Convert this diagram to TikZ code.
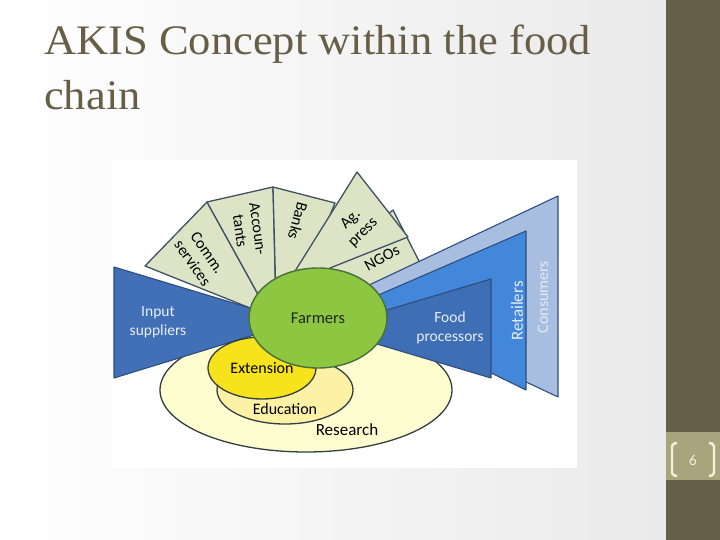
\documentclass[tikz,border=0pt]{standalone}
\usepackage{fontspec}
\setmainfont{Liberation Serif}
\newfontfamily\carl{Carlito}
\usetikzlibrary{shapes.geometric}
\definecolor{barcol}{RGB}{102,94,72}
\definecolor{boxcol}{RGB}{168,164,126}
\definecolor{numcol}{RGB}{243,240,220}
\definecolor{titlecol}{RGB}{103,94,72}
\definecolor{bggray}{RGB}{234,234,234}
\definecolor{fanfill}{RGB}{221,228,198}
\definecolor{fanline}{RGB}{62,82,100}
\definecolor{inputcol}{RGB}{65,112,182}
\definecolor{foodcol}{RGB}{62,110,180}
\definecolor{retailcol}{RGB}{66,135,218}
\definecolor{conscol}{RGB}{168,190,224}
\definecolor{blueline}{RGB}{46,78,128}
\definecolor{farmfill}{RGB}{141,198,65}
\definecolor{farmline}{RGB}{72,110,58}
\definecolor{extfill}{RGB}{247,227,28}
\definecolor{edufill}{RGB}{252,241,165}
\definecolor{resfill}{RGB}{254,253,208}
\definecolor{ellline}{RGB}{50,62,64}
\definecolor{lighttext}{RGB}{232,238,246}
\definecolor{constext}{RGB}{226,233,243}
\begin{document}
\begin{tikzpicture}[x=1pt,y=-1pt,
  fan/.style={draw=fanline, fill=fanfill, line width=1.3pt, line join=round},
  bluepoly/.style={draw=blueline, line width=1.1pt, line join=round},
  ell/.style={ellipse, draw=ellline, line width=1.3pt, inner sep=0pt},
  lbl/.style={font=\carl\fontsize{16}{18}\selectfont, text=black, align=center, inner sep=0pt},
  wlbl/.style={font=\carl\fontsize{15.5}{19}\selectfont, text=lighttext, align=center, inner sep=0pt},
  bracket/.style={draw=numcol, line width=2.4pt, rounded corners=2pt},
  titletxt/.style={anchor=base west, inner sep=0pt, text=titlecol, xscale=1.06, font=\fontsize{42}{52}\selectfont}]
\useasboundingbox (0,0) rectangle (720,540);
% background
\shade[left color=white, right color=bggray] (0,0) rectangle (666,540);
\fill[barcol] (666,0) rectangle (720,540);
\fill[boxcol] (666,432) rectangle (720,480);
\draw[bracket] (677,443) -- (672,444) -- (672,475) -- (677,476);
\draw[bracket] (709,443) -- (714,444) -- (714,475) -- (709,476);
\node[font=\carl\fontsize{15}{16}\selectfont, text=numcol] (pagenum) at (693,460) {6};
% title
\node[titletxt] (title1) at (44,55) {AKIS Concept within the food};
\node[titletxt] (title2) at (44,110) {chain};
% picture area
\fill[white] (112,160) rectangle (577,468);
% fan pieces
\draw[fan] (145,266) -- (207,202) -- (270,316) -- cycle;
\draw[fan] (207,202) -- (273,187) -- (276,310) -- (270,316) -- cycle;
\draw[fan] (273,187) -- (335,203) -- (300,288) -- (276,300) -- cycle;
\draw[fan] (393,210) -- (421,265) -- (360,300) -- (312,278) -- cycle;
\draw[fan] (357,172) -- (408,237) -- (330,268) -- (318,290) -- (292,276) -- cycle;
% research / education
\node[ell, fill=resfill, minimum width=292pt, minimum height=124pt] (research) at (306,390) {};
\node[ell, fill=edufill, minimum width=136pt, minimum height=68pt] (education) at (285,390) {};
% blue trapezoids
\draw[bluepoly, fill=inputcol] (114,267) -- (280,317) -- (280,327) -- (114,378) -- cycle;
\draw[bluepoly, fill=conscol] (350,294) -- (558,196) -- (558,397) -- (350,299) -- cycle;
\draw[bluepoly, fill=retailcol] (360,303) -- (526,231) -- (526,390) -- (360,309) -- cycle;
\draw[bluepoly, fill=foodcol] (360,318) -- (491,279) -- (491,378) -- (360,339) -- cycle;
% extension and farmers
\node[ell, fill=extfill, minimum width=108pt, minimum height=62pt] (extension) at (262,368) {};
\node[ellipse, draw=farmline, line width=1.4pt, fill=farmfill, inner sep=0pt, minimum width=138pt, minimum height=100pt, font=\carl\fontsize{16.5}{18}\selectfont, text={rgb,255:red,30;green,40;blue,30}] (farmers) at (318,318) {Farmers};
% labels
\node[lbl] (extlbl) at (262,368) {Extension};
\node[lbl] (edulbl) at (285,409) {Education};
\node[lbl, font=\carl\fontsize{17}{18}\selectfont] (reslbl) at (347,430) {Research};
\node[wlbl] (inputlbl) at (158,322) {Input\\suppliers};
\node[wlbl] (foodlbl) at (450,328) {Food\\processors};
\node[wlbl, font=\carl\fontsize{17}{18}\selectfont, rotate=90] (retlbl) at (517,311) {Retailers};
\node[wlbl, text=constext, font=\carl\fontsize{16}{18}\selectfont, rotate=90] (conslbl) at (543,297) {Consumers};
\node[lbl, rotate=-55] (commlbl) at (200,258) {Comm.\\services};
\node[lbl, rotate=-82] (acclbl) at (249,230) {Accoun-\\tants};
\node[lbl, rotate=-105] (banklbl) at (298,221) {Banks};
\node[lbl, rotate=44] (aglbl) at (357,226) {Ag.\\press};
\node[lbl, rotate=29] (ngolbl) at (382,258) {NGOs};
\end{tikzpicture}
\end{document}
